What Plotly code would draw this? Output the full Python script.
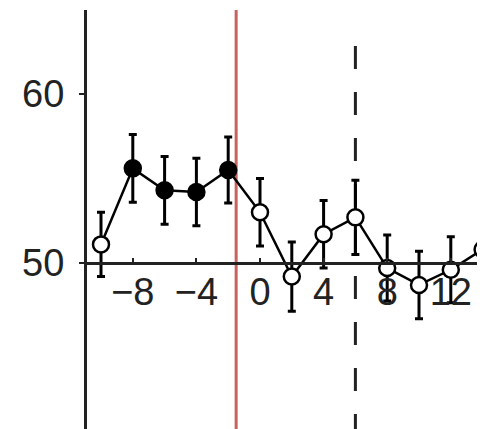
import plotly.graph_objects as go

x_vals = [-10, -8, -6, -4, -2, 0, 2, 4, 6, 8, 10, 12, 14]
y_vals = [51.1, 55.6, 54.3, 54.2, 55.5, 53.0, 49.2, 51.7, 52.7, 49.7, 48.7, 49.6, 50.8]
err_vals = [1.9, 2.0, 2.0, 2.0, 1.95, 2.0, 2.05, 2.0, 2.2, 1.95, 2.0, 1.95, 1.75]
filled = [False, True, True, True, True, False, False, False, False, False, False, False, False]
x_ticks = [-8, -4, 0, 4, 8, 12]
x_tick_labels = ["\u22128", "\u22124", "0", "4", "8", "12"]
y_ticks = [40, 50, 60]
red_line_x = -1.5
dashed_line_x = 6

OFF = 8  # page body margin
W, H = 485, 429
ml, mt = 87 - OFF, 10 - OFF
px_per_x = 15.9
px_per_y = 16.9
x0_px = 260 - OFF
y50_px = 263 - OFF

x_lo = (ml - x0_px) / px_per_x
x_hi = (W - x0_px) / px_per_x
y_hi = 50 + (y50_px - mt) / px_per_y
y_lo = 50 - (H - y50_px) / px_per_y
xaxis_pos = (H - y50_px) / (H - mt)

fig = go.Figure()
fig.add_trace(go.Scatter(
    x=x_vals, y=y_vals, mode="lines+markers",
    line=dict(color="black", width=2.5),
    error_y=dict(type="data", array=err_vals, color="black", thickness=3, width=4),
    marker=dict(size=16, color=["black" if f else "white" for f in filled],
                line=dict(color="black", width=2.5)),
    cliponaxis=False, showlegend=False,
))

fig.add_shape(type="line", xref="x", yref="paper", x0=red_line_x, x1=red_line_x,
              y0=0, y1=1, line=dict(color="#c8625e", width=3), layer="below")
fig.add_shape(type="line", xref="x", yref="paper", x0=dashed_line_x, x1=dashed_line_x,
              y0=0, y1=(H - (32 - OFF)) / (H - mt), line=dict(color="#222222", width=3, dash="23px,23px"),
              layer="below")

fig.update_layout(
    width=W, height=H,
    margin=dict(l=ml, r=0, t=mt, b=0),
    plot_bgcolor="white", paper_bgcolor="white",
    font=dict(family="Liberation Sans, Arial, sans-serif", size=38, color="#222222"),
    xaxis=dict(range=[x_lo, x_hi], tickvals=x_ticks, ticktext=x_tick_labels,
               anchor="free", position=xaxis_pos, showline=True, linecolor="#222222",
               linewidth=2.5, ticks="inside", ticklen=4, tickwidth=2, tickcolor="#222222",
               showgrid=False, zeroline=False, ticklabelstandoff=-5),
    yaxis=dict(range=[y_lo, y_hi], tickvals=y_ticks, showline=True, linecolor="#222222",
               linewidth=3, ticks="outside", ticklen=5, tickwidth=2, tickcolor="#222222",
               showgrid=False, zeroline=False, ticklabelstandoff=7),
)

fig.write_html("out.html")
